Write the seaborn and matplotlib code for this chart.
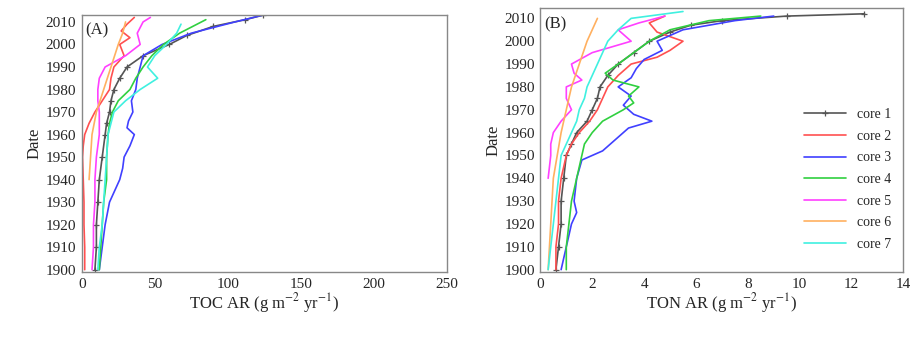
import numpy as np
import pandas as pd
import matplotlib
matplotlib.use("Agg")
import matplotlib.pyplot as plt
import seaborn as sns

sns.set_theme(style="white")
plt.rcParams['font.family'] = ['Liberation Serif', 'DejaVu Serif']
plt.rcParams['mathtext.fontset'] = 'stix'

cores = ["core 1", "core 2", "core 3", "core 4", "core 5", "core 6", "core 7"]
colors = ["#555555", "#ff5050", "#4040ff", "#30d040", "#ff40ff", "#ffb060", "#40f0e0"]

# Panel A: TOC accumulation rate (g m-2 yr-1)
toc_years = {
    "core 1": [1900, 1910, 1920, 1930, 1940, 1950, 1960, 1965, 1970, 1975, 1980, 1985, 1990, 1995, 2000, 2004, 2008, 2011, 2013],
    "core 2": [1900, 1910, 1920, 1930, 1940, 1950, 1955, 1960, 1965, 1970, 1975, 1980, 1985, 1990, 1995, 2000, 2003, 2006, 2009, 2012],
    "core 3": [1900, 1910, 1920, 1930, 1940, 1945, 1950, 1955, 1960, 1963, 1966, 1970, 1975, 1980, 1985, 1990, 1995, 2000, 2005, 2010, 2013],
    "core 4": [1900, 1910, 1920, 1930, 1940, 1950, 1960, 1965, 1970, 1975, 1980, 1985, 1990, 1995, 2000, 2005, 2008, 2011],
    "core 5": [1900, 1910, 1920, 1930, 1940, 1950, 1960, 1970, 1975, 1980, 1985, 1990, 1995, 2000, 2005, 2010, 2012],
    "core 6": [1940, 1950, 1960, 1970, 1980, 1990, 2000, 2005, 2010],
    "core 7": [1900, 1910, 1920, 1930, 1940, 1950, 1960, 1970, 1975, 1980, 1985, 1990, 1995, 2000, 2005, 2009],
}
toc_values = {
    "core 1": [9, 10, 10, 11, 12, 14, 16, 17, 19, 20, 22, 26, 31, 42, 60, 72, 90, 112, 124],
    "core 2": [2, 2, 1.5, 1.5, 1, 0.5, 1, 2, 5, 9, 14, 19, 20, 22, 29, 26, 33, 27, 31, 36],
    "core 3": [12, 14, 16, 19, 26, 28, 29, 33, 36, 31, 32, 35, 34, 37, 38, 40, 42, 55, 75, 105, 124],
    "core 4": [12, 13, 14, 15, 17, 17, 18, 19, 21, 25, 33, 37, 42, 48, 56, 67, 76, 85],
    "core 5": [7, 8, 8, 9, 9, 10, 12, 12, 11, 11, 12, 16, 30, 40, 38, 42, 47],
    "core 6": [5, 6, 7, 10, 15, 20, 25, 28, 30],
    "core 7": [11, 12, 14, 15, 16, 17, 18, 22, 30, 40, 52, 45, 50, 58, 65, 68],
}

# Panel B: TON accumulation rate (g m-2 yr-1)
ton_years = {
    "core 1": [1900, 1910, 1920, 1930, 1940, 1950, 1955, 1960, 1965, 1970, 1975, 1980, 1985, 1990, 1995, 2000, 2004, 2007, 2009, 2011, 2012],
    "core 2": [1900, 1910, 1920, 1930, 1940, 1950, 1955, 1960, 1965, 1970, 1975, 1980, 1985, 1990, 1993, 1996, 2000, 2004, 2008, 2011],
    "core 3": [1900, 1910, 1920, 1925, 1930, 1940, 1948, 1952, 1955, 1958, 1962, 1965, 1968, 1972, 1976, 1980, 1984, 1988, 1992, 1996, 2000, 2005, 2009, 2011],
    "core 4": [1900, 1910, 1920, 1930, 1940, 1950, 1955, 1960, 1965, 1970, 1973, 1976, 1980, 1983, 1986, 1990, 1995, 2000, 2005, 2009, 2011],
    "core 5": [1940, 1950, 1955, 1960, 1965, 1970, 1975, 1980, 1983, 1986, 1990, 1995, 2000, 2005, 2008, 2011],
    "core 6": [1900, 1920, 1940, 1960, 1980, 2000, 2010],
    "core 7": [1900, 1910, 1920, 1930, 1940, 1950, 1955, 1960, 1965, 1970, 1975, 1980, 1985, 1990, 1995, 2000, 2005, 2010, 2013],
}
ton_values = {
    "core 1": [0.6, 0.7, 0.8, 0.8, 0.9, 1.0, 1.2, 1.4, 1.8, 2.0, 2.2, 2.3, 2.6, 3.0, 3.6, 4.2, 5.0, 5.8, 7.0, 9.5, 12.5],
    "core 2": [0.6, 0.6, 0.7, 0.7, 0.8, 1.0, 1.2, 1.5, 1.9, 2.2, 2.4, 2.6, 3.0, 3.5, 4.5, 5.0, 5.5, 4.5, 4.2, 4.8],
    "core 3": [0.8, 1.0, 1.2, 1.4, 1.3, 1.4, 1.6, 2.4, 2.7, 3.0, 3.4, 4.3, 3.6, 3.2, 3.5, 3.0, 3.5, 3.7, 4.0, 4.7, 4.5, 5.5, 7.5, 9.0],
    "core 4": [1.0, 1.0, 1.1, 1.2, 1.4, 1.6, 1.7, 2.0, 2.4, 3.2, 3.6, 3.4, 3.8, 2.8, 2.5, 3.0, 3.6, 4.2, 5.0, 6.5, 8.5],
    "core 5": [0.3, 0.4, 0.4, 0.5, 0.8, 1.2, 1.0, 1.0, 1.6, 1.3, 1.2, 2.0, 3.5, 3.0, 3.8, 4.8],
    "core 6": [0.3, 0.4, 0.5, 0.8, 1.2, 1.8, 2.2],
    "core 7": [0.3, 0.4, 0.5, 0.6, 0.7, 0.8, 1.0, 1.2, 1.4, 1.5, 1.7, 1.8, 2.0, 2.2, 2.4, 2.6, 3.0, 3.5, 5.5],
}

def long_df(years, values):
    rows = []
    for c in cores:
        for i, (y, v) in enumerate(zip(years[c], values[c])):
            rows.append({"core": c, "year": y, "value": v, "order": i})
    return pd.DataFrame(rows)

dfA = long_df(toc_years, toc_values)
dfB = long_df(ton_years, ton_values)

fig = plt.figure(figsize=(9.19, 3.37), dpi=100)
axA = fig.add_axes([0.089, 0.193, 0.397, 0.762])
axB = fig.add_axes([0.588, 0.193, 0.395, 0.783])

def draw(ax, df):
    for c, col in zip(cores, colors):
        sub = df[df["core"] == c]
        if c == "core 1":
            kw = dict(marker="+", markersize=4, markeredgewidth=0.9, markeredgecolor=col)
        else:
            kw = {}
        sns.lineplot(data=sub, x="value", y="year", ax=ax, sort=False, estimator=None,
                     color=col, lw=1.2, label=c, **kw)

draw(axA, dfA)
draw(axB, dfB)

tick_font = 11
axA.set_xlim(0, 250)
axA.set_ylim(1899, 2013)
axA.set_xticks([0, 50, 100, 150, 200, 250])
axB.set_xlim(0, 14)
axB.set_ylim(1899, 2014.5)
axB.set_xticks([0, 2, 4, 6, 8, 10, 12, 14])
for ax in (axA, axB):
    ax.set_yticks(np.arange(1900, 2011, 10))
    ax.tick_params(labelsize=tick_font, length=0, pad=4)
    ax.set_ylabel("Date", fontsize=12, labelpad=2)
    for s in ax.spines.values():
        s.set_color("#888888")
        s.set_linewidth(1.0)

axA.set_xlabel("TOC AR (g m$^{-2}$ yr$^{-1}$)", fontsize=12, labelpad=0)
axB.set_xlabel("TON AR (g m$^{-2}$ yr$^{-1}$)", fontsize=12, labelpad=0)
axA.text(0.01, 0.97, "(A)", transform=axA.transAxes, fontsize=12, va="top", ha="left")
axB.text(0.01, 0.97, "(B)", transform=axB.transAxes, fontsize=12, va="top", ha="left")

axA.get_legend().remove()
axB.legend(loc="center right", bbox_to_anchor=(0.99, 0.35), frameon=False, fontsize=10,
           handlelength=3.0, labelspacing=0.62, borderaxespad=0.2)

fig.savefig("out.png", dpi=100)
